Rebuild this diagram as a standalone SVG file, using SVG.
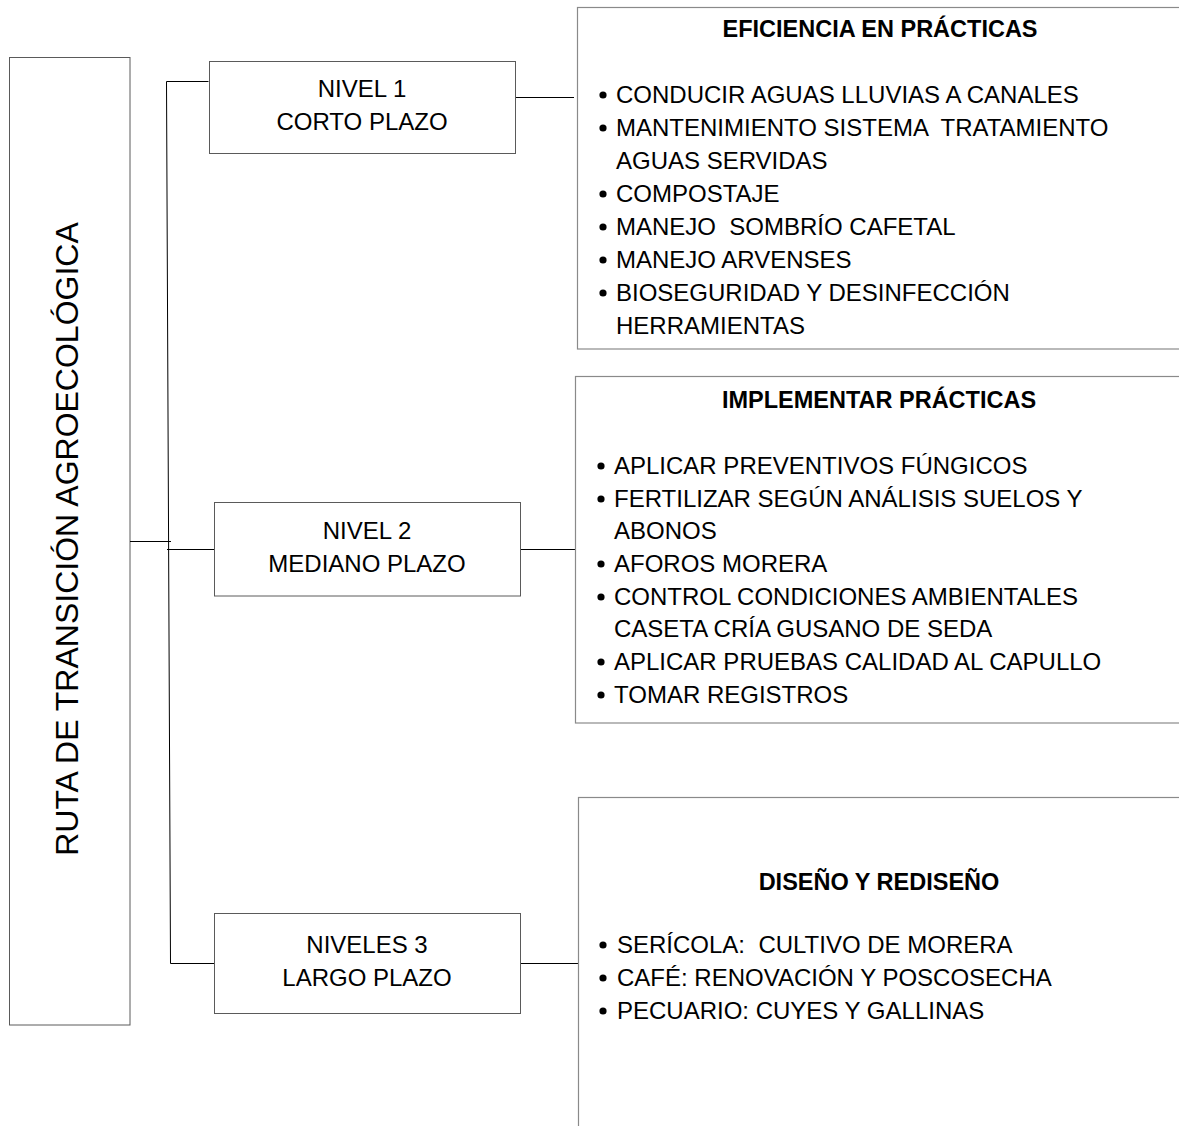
<svg xmlns="http://www.w3.org/2000/svg" width="1179" height="1126" viewBox="0 0 1179 1126">
  <style>
    text { font-family: "Liberation Sans", Arial, sans-serif; fill: #000; }
    .box { fill: #fff; stroke: #5a5a5a; stroke-width: 1; }
    .panel { fill: #fff; stroke: #8a8a8a; stroke-width: 1.2; }
    .node { font-size: 24px; text-anchor: middle; }
    .title { font-size: 23.5px; font-weight: bold; text-anchor: middle; }
    .item { font-size: 24px; }
    .dot { fill: #000; }
    .conn { fill: none; stroke: #000; stroke-width: 1; }
  </style>

  <rect width="1179" height="1126" fill="#fff"/>

  <!-- main route box with vertical title -->
  <g id="ruta">
    <rect class="box" x="9.5" y="57.5" width="120.5" height="967.5"/>
    <text transform="translate(78,539) rotate(-90)" text-anchor="middle" font-size="32">RUTA DE TRANSICIÓN AGROECOLÓGICA</text>
  </g>

  <!-- connectors -->
  <g id="connectors">
    <path class="conn" d="M208.5,81.5 H166.5 L170.5,963.5 H214"/>
    <path class="conn" d="M130,541.5 H171"/>
    <path class="conn" d="M167,549.5 H214"/>
    <path class="conn" d="M515,97.5 H574"/>
    <path class="conn" d="M520,549.5 H575"/>
    <path class="conn" d="M520,963.5 H578"/>
  </g>

  <!-- level nodes -->
  <g id="nivel1">
    <rect class="box" x="209.5" y="61.5" width="306" height="92"/>
    <text class="node" x="362" y="97">NIVEL 1</text>
    <text class="node" x="362" y="130">CORTO PLAZO</text>
  </g>
  <g id="nivel2">
    <rect class="box" x="214.5" y="502.5" width="306" height="93.5"/>
    <text class="node" x="367" y="539">NIVEL 2</text>
    <text class="node" x="367" y="572">MEDIANO PLAZO</text>
  </g>
  <g id="nivel3">
    <rect class="box" x="214.5" y="913.5" width="306" height="100"/>
    <text class="node" x="367" y="953">NIVELES 3</text>
    <text class="node" x="367" y="986">LARGO PLAZO</text>
  </g>

  <!-- practice panels -->
  <g id="eficiencia">
    <rect class="panel" x="577.5" y="7.5" width="640" height="341.5"/>
    <text class="title" x="880" y="37">EFICIENCIA EN PRÁCTICAS</text>
    <circle class="dot" cx="603" cy="95" r="3.6"/>
    <text class="item" x="616" y="103">CONDUCIR AGUAS LLUVIAS A CANALES</text>
    <circle class="dot" cx="603" cy="128" r="3.6"/>
    <text class="item" x="616" y="136" xml:space="preserve">MANTENIMIENTO SISTEMA  TRATAMIENTO</text>
    <text class="item" x="616" y="169">AGUAS SERVIDAS</text>
    <circle class="dot" cx="603" cy="194" r="3.6"/>
    <text class="item" x="616" y="202">COMPOSTAJE</text>
    <circle class="dot" cx="603" cy="227" r="3.6"/>
    <text class="item" x="616" y="235" xml:space="preserve">MANEJO  SOMBRÍO CAFETAL</text>
    <circle class="dot" cx="603" cy="260" r="3.6"/>
    <text class="item" x="616" y="268">MANEJO ARVENSES</text>
    <circle class="dot" cx="603" cy="293" r="3.6"/>
    <text class="item" x="616" y="301">BIOSEGURIDAD Y DESINFECCIÓN</text>
    <text class="item" x="616" y="334">HERRAMIENTAS</text>
  </g>

  <g id="implementar">
    <rect class="panel" x="575.5" y="376.5" width="640" height="346.5"/>
    <text class="title" x="879" y="408">IMPLEMENTAR PRÁCTICAS</text>
    <circle class="dot" cx="601" cy="466" r="3.6"/>
    <text class="item" x="614" y="474">APLICAR PREVENTIVOS FÚNGICOS</text>
    <circle class="dot" cx="601" cy="499" r="3.6"/>
    <text class="item" x="614" y="507">FERTILIZAR SEGÚN ANÁLISIS SUELOS Y</text>
    <text class="item" x="614" y="539">ABONOS</text>
    <circle class="dot" cx="601" cy="564" r="3.6"/>
    <text class="item" x="614" y="572">AFOROS MORERA</text>
    <circle class="dot" cx="601" cy="597" r="3.6"/>
    <text class="item" x="614" y="605">CONTROL CONDICIONES AMBIENTALES</text>
    <text class="item" x="614" y="637">CASETA CRÍA GUSANO DE SEDA</text>
    <circle class="dot" cx="601" cy="662" r="3.6"/>
    <text class="item" x="614" y="670">APLICAR PRUEBAS CALIDAD AL CAPULLO</text>
    <circle class="dot" cx="601" cy="695" r="3.6"/>
    <text class="item" x="614" y="703">TOMAR REGISTROS</text>
  </g>

  <g id="diseno">
    <rect class="panel" x="578.5" y="797.5" width="640" height="400"/>
    <text class="title" x="879" y="890">DISEÑO Y REDISEÑO</text>
    <circle class="dot" cx="603" cy="945" r="3.6"/>
    <text class="item" x="617" y="953" xml:space="preserve">SERÍCOLA:  CULTIVO DE MORERA</text>
    <circle class="dot" cx="603" cy="978" r="3.6"/>
    <text class="item" x="617" y="986">CAFÉ: RENOVACIÓN Y POSCOSECHA</text>
    <circle class="dot" cx="603" cy="1011" r="3.6"/>
    <text class="item" x="617" y="1019">PECUARIO: CUYES Y GALLINAS</text>
  </g>
</svg>
